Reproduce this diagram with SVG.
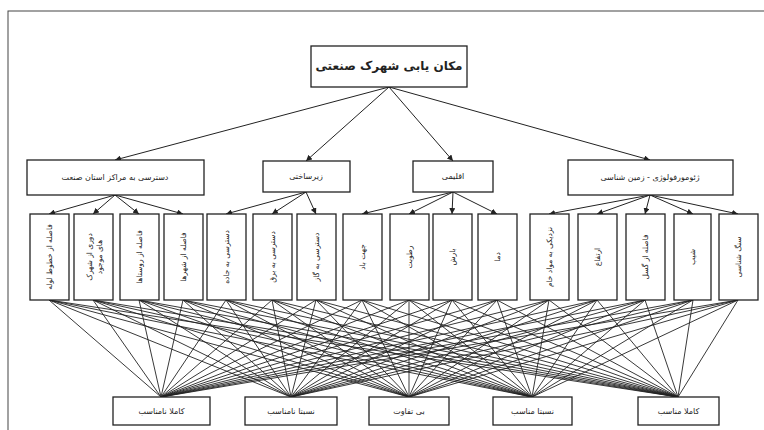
<svg xmlns="http://www.w3.org/2000/svg" width="764" height="430" viewBox="0 0 764 430">
<style>
.box{fill:#fff;stroke:#222;stroke-width:1.3}
.ln{stroke:#222;stroke-width:0.9;fill:none}
.ar{stroke:#222;stroke-width:1;fill:none;marker-end:url(#ah)}
text{font-family:"DejaVu Sans","Noto Sans",sans-serif;fill:#222;text-anchor:middle;dominant-baseline:central}
.t{font-size:12px;font-weight:bold}
.m{font-size:8px}
.v{font-size:7.5px}
.b{font-size:8px}
</style>
<defs>
<marker id="ah" viewBox="0 0 10 10" refX="10" refY="5" markerWidth="6" markerHeight="6" orient="auto" markerUnits="userSpaceOnUse">
<path d="M0,0 L10,5 L0,10 z" fill="#222"/>
</marker>
</defs>
<rect x="8" y="11" width="770" height="430" fill="#fff" stroke="#444" stroke-width="1"/>
<g id="connectors">
<line class="ar" x1="389" y1="87" x2="115" y2="160"/>
<line class="ar" x1="389" y1="87" x2="306" y2="161"/>
<line class="ar" x1="389" y1="87" x2="453" y2="161"/>
<line class="ar" x1="389" y1="87" x2="650" y2="160"/>
<line class="ar" x1="115" y1="195" x2="49" y2="214"/>
<line class="ar" x1="115" y1="195" x2="93" y2="214"/>
<line class="ar" x1="115" y1="195" x2="139" y2="214"/>
<line class="ar" x1="115" y1="195" x2="183" y2="214"/>
<line class="ar" x1="306" y1="192" x2="226" y2="214"/>
<line class="ar" x1="306" y1="192" x2="272" y2="214"/>
<line class="ar" x1="306" y1="192" x2="316" y2="214"/>
<line class="ar" x1="453" y1="192" x2="362" y2="214"/>
<line class="ar" x1="453" y1="192" x2="409" y2="214"/>
<line class="ar" x1="453" y1="192" x2="452" y2="214"/>
<line class="ar" x1="453" y1="192" x2="497" y2="214"/>
<line class="ar" x1="650" y1="195" x2="549" y2="214"/>
<line class="ar" x1="650" y1="195" x2="597" y2="214"/>
<line class="ar" x1="650" y1="195" x2="645" y2="214"/>
<line class="ar" x1="650" y1="195" x2="693" y2="214"/>
<line class="ar" x1="650" y1="195" x2="738" y2="214"/>
<path class="ln" d="M49,300L161,397M49,300L291,397M49,300L409,397M49,300L532,397M49,300L678,397
M93,300L161,397M93,300L291,397M93,300L409,397M93,300L532,397M93,300L678,397
M139,300L161,397M139,300L291,397M139,300L409,397M139,300L532,397M139,300L678,397
M183,300L161,397M183,300L291,397M183,300L409,397M183,300L532,397M183,300L678,397
M226,300L161,397M226,300L291,397M226,300L409,397M226,300L532,397M226,300L678,397
M272,300L161,397M272,300L291,397M272,300L409,397M272,300L532,397M272,300L678,397
M316,300L161,397M316,300L291,397M316,300L409,397M316,300L532,397M316,300L678,397
M362,300L161,397M362,300L291,397M362,300L409,397M362,300L532,397M362,300L678,397
M409,300L161,397M409,300L291,397M409,300L409,397M409,300L532,397M409,300L678,397
M452,300L161,397M452,300L291,397M452,300L409,397M452,300L532,397M452,300L678,397
M497,300L161,397M497,300L291,397M497,300L409,397M497,300L532,397M497,300L678,397
M549,300L161,397M549,300L291,397M549,300L409,397M549,300L532,397M549,300L678,397
M597,300L161,397M597,300L291,397M597,300L409,397M597,300L532,397M597,300L678,397
M645,300L161,397M645,300L291,397M645,300L409,397M645,300L532,397M645,300L678,397
M693,300L161,397M693,300L291,397M693,300L409,397M693,300L532,397M693,300L678,397
M738,300L161,397M738,300L291,397M738,300L409,397M738,300L532,397M738,300L678,397"/>
</g>
<g id="goal"><rect class="box" x="311" y="46" width="156" height="41"/><text class="t" x="389" y="66">مکان یابی شهرک صنعتی</text></g>
<g id="c1"><rect class="box" x="27" y="160" width="177" height="35"/><text class="m" x="115" y="177">دسترسی به مراکز استان صنعت</text></g>
<g id="c2"><rect class="box" x="263" y="161" width="87" height="31"/><text class="m" x="306" y="176">زیرساختی</text></g>
<g id="c3"><rect class="box" x="413" y="161" width="80" height="31"/><text class="m" x="453" y="176">اقلیمی</text></g>
<g id="c4"><rect class="box" x="568" y="160" width="165" height="35"/><text class="m" x="650" y="177">ژئومورفولوژی - زمین شناسی</text></g>
<g id="s1"><rect class="box" x="30" y="214" width="39" height="86"/><text class="v" transform="translate(49.5,257) rotate(-90)">فاصله از خطوط لوله</text></g>
<g id="s2"><rect class="box" x="74" y="214" width="39" height="86"/><text class="v" transform="translate(93.5,257) rotate(-90)"><tspan x="0" dy="-5">دوری از شهرک</tspan><tspan x="0" dy="10">های موجود</tspan></text></g>
<g id="s3"><rect class="box" x="120" y="214" width="39" height="86"/><text class="v" transform="translate(139.5,257) rotate(-90)">فاصله از روستاها</text></g>
<g id="s4"><rect class="box" x="164" y="214" width="39" height="86"/><text class="v" transform="translate(183.5,257) rotate(-90)">فاصله از شهرها</text></g>
<g id="s5"><rect class="box" x="207" y="214" width="39" height="86"/><text class="v" transform="translate(226.5,257) rotate(-90)">دسترسی به جاده</text></g>
<g id="s6"><rect class="box" x="253" y="214" width="39" height="86"/><text class="v" transform="translate(272.5,257) rotate(-90)">دسترسی به برق</text></g>
<g id="s7"><rect class="box" x="297" y="214" width="39" height="86"/><text class="v" transform="translate(316.5,257) rotate(-90)">دسترسی به گاز</text></g>
<g id="s8"><rect class="box" x="343" y="214" width="39" height="86"/><text class="v" transform="translate(362.5,257) rotate(-90)">جهت باد</text></g>
<g id="s9"><rect class="box" x="390" y="214" width="39" height="86"/><text class="v" transform="translate(409.5,257) rotate(-90)">رطوبت</text></g>
<g id="s10"><rect class="box" x="433" y="214" width="39" height="86"/><text class="v" transform="translate(452.5,257) rotate(-90)">بارش</text></g>
<g id="s11"><rect class="box" x="478" y="214" width="39" height="86"/><text class="v" transform="translate(497.5,257) rotate(-90)">دما</text></g>
<g id="s12"><rect class="box" x="530" y="214" width="39" height="86"/><text class="v" transform="translate(549.5,257) rotate(-90)">نزدیکی به مواد خام</text></g>
<g id="s13"><rect class="box" x="578" y="214" width="39" height="86"/><text class="v" transform="translate(597.5,257) rotate(-90)">ارتفاع</text></g>
<g id="s14"><rect class="box" x="626" y="214" width="39" height="86"/><text class="v" transform="translate(645.5,257) rotate(-90)">فاصله از گسل</text></g>
<g id="s15"><rect class="box" x="674" y="214" width="37" height="86"/><text class="v" transform="translate(692.5,257) rotate(-90)">شیب</text></g>
<g id="s16"><rect class="box" x="719" y="214" width="39" height="86"/><text class="v" transform="translate(738.5,257) rotate(-90)">سنگ شناسی</text></g>
<g id="a1"><rect class="box" x="113" y="397" width="97" height="28"/><text class="b" x="161.5" y="411">کاملا نامناسب</text></g>
<g id="a2"><rect class="box" x="245" y="397" width="92" height="28"/><text class="b" x="291" y="411">نسبتا نامناسب</text></g>
<g id="a3"><rect class="box" x="369" y="397" width="80" height="28"/><text class="b" x="409" y="411">بی تفاوت</text></g>
<g id="a4"><rect class="box" x="493" y="397" width="79" height="28"/><text class="b" x="532.5" y="411">نسبتا مناسب</text></g>
<g id="a5"><rect class="box" x="638" y="397" width="81" height="28"/><text class="b" x="678.5" y="411">کاملا مناسب</text></g>
</svg>
